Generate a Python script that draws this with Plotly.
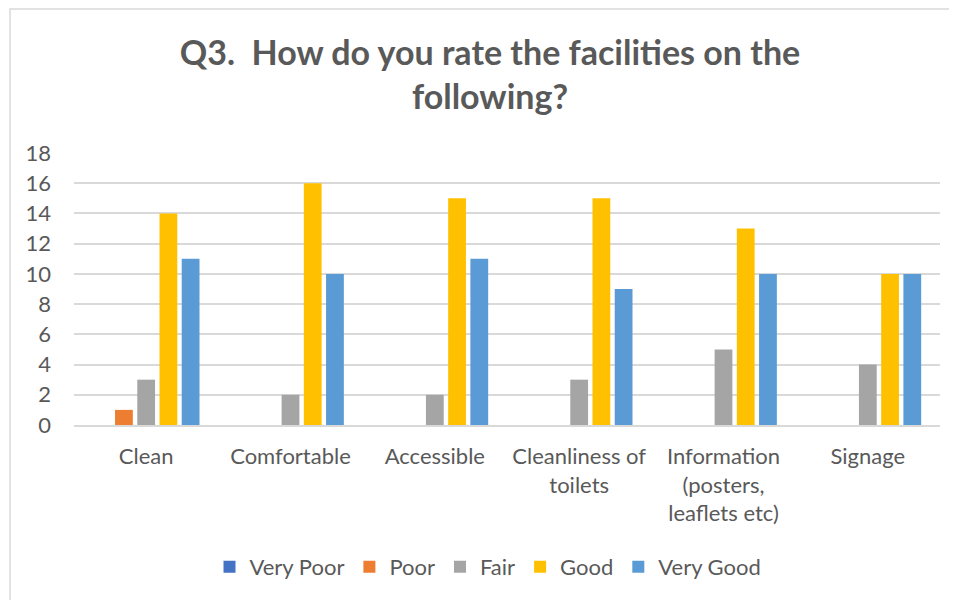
import plotly.graph_objects as go

categories = ["Clean", "Comfortable", "Accessible", "Cleanliness of<br>toilets",
              "Information<br>(posters,<br>leaflets etc)", "Signage"]
very_poor = [0, 0, 0, 0, 0, 0]
poor = [1, 0, 0, 0, 0, 0]
fair = [3, 2, 2, 3, 5, 4]
good = [14, 16, 15, 15, 13, 10]
very_good = [11, 10, 11, 9, 10, 10]
y_ticks = [0, 2, 4, 6, 8, 10, 12, 14, 16, 18]

series = [
    ("Very Poor", very_poor, "#4472C4"),
    ("Poor", poor, "#ED7D31"),
    ("Fair", fair, "#A5A5A5"),
    ("Good", good, "#FFC000"),
    ("Very Good", very_good, "#5B9BD5"),
]

FONT = "Lato, Carlito, Calibri, sans-serif"
TXT = "#595959"

fig = go.Figure()
for name, vals, col in series:
    fig.add_trace(go.Bar(name=name, x=categories, y=vals, marker_color=col,
                         marker_line_width=0))

# page body has an 8px margin, so figure coords = screen coords - 8
W, H = 949, 592
L, R, T, B = 66, 17, 145, 175
pw, ph = W - L - R, H - T - B

def px_x(p):
    return (p - L) / pw

def px_y(p):
    return (H - B - p) / ph

fig.update_layout(
    width=W, height=H,
    margin=dict(l=L, r=R, t=T, b=B),
    paper_bgcolor="white", plot_bgcolor="white",
    font=dict(family=FONT, color=TXT, size=22),
    title=dict(text="Q3.\u00a0 How do you rate the facilities on the<br>following?",
               font=dict(family=FONT, size=34, color=TXT, weight="bold"),
               x=px_x(482), xanchor="center", xref="paper",
               y=1 - 57 / H, yanchor="middle", yref="container"),
    barmode="group", bargap=0.23, bargroupgap=0.2,
    showlegend=True,
    legend=dict(orientation="h", x=px_x(480), xanchor="center",
                y=px_y(559), yanchor="middle",
                font=dict(family=FONT, size=22, color=TXT),
                traceorder="normal"),
    xaxis=dict(showgrid=False, zeroline=False, showline=True, linecolor="#D9D9D9",
               linewidth=1.5, ticks="", tickfont=dict(family=FONT, size=22, color=TXT),
               ticklabelstandoff=11),
    yaxis=dict(range=[0, 18], tickvals=y_ticks, showgrid=True, gridcolor="#D9D9D9",
               gridwidth=1.5, zeroline=False, showline=False, ticks="",
               tickfont=dict(family=FONT, size=22, color=TXT), ticklabelstandoff=22),
    shapes=[dict(type="rect", xref="paper", yref="paper",
                 x0=px_x(2), x1=px_x(1000), y0=px_y(640), y1=px_y(1),
                 line=dict(color="#D9D9D9", width=1.5), fillcolor="rgba(0,0,0,0)",
                 layer="below")],
)

fig.write_html("out.html")
